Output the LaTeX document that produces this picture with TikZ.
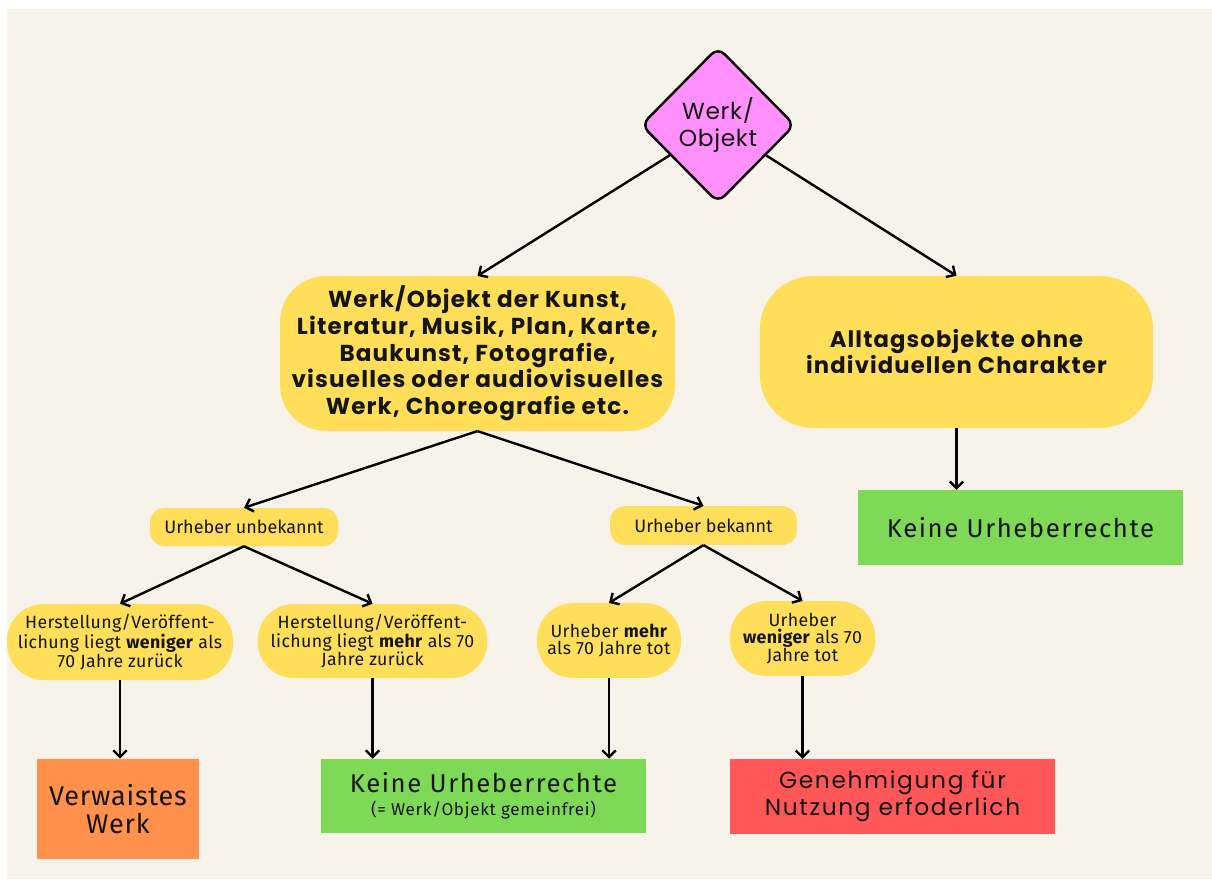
\documentclass[tikz,border=0pt]{standalone}
\usepackage{fontspec}
\setmainfont{Poppins}
\newfontfamily\fira{Fira Sans}
\usetikzlibrary{arrows.meta,shapes.geometric}
\definecolor{cream}{HTML}{F7F2EA}
\definecolor{ylw}{HTML}{FFDE59}
\definecolor{grn}{HTML}{7ED957}
\definecolor{org}{HTML}{FF914D}
\definecolor{rd}{HTML}{FF5757}
\definecolor{pnk}{HTML}{FF8FFA}
\definecolor{txt}{HTML}{151515}
\begin{document}
\begin{tikzpicture}[x=0.75pt,y=-0.75pt,
  arr/.style={draw=black,line width=1.8pt,-{Straight Barb[length=5pt,width=10pt,line width=1.8pt]}},
  base/.style={inner sep=0pt,align=center,text=txt},
  ybox/.style={base,fill=ylw},
  flat/.style={base,draw=none},
  smalltxt/.style={font=\fira\addfontfeature{LetterSpace=2}\fontsize{13.3}{13}\selectfont}
]
\fill[white] (0,0) rectangle (1212,881);
\fill[cream] (7,9) rectangle (1212,879);

\node[diamond,draw=black,line width=1.8pt,fill=pnk,inner sep=0pt,
  minimum width=115.5pt,minimum height=117pt,rounded corners=7pt,
  align=center,text=txt,font=\addfontfeature{LetterSpace=3}\fontsize{17.5}{20}\selectfont] (d) at (718,125) {Werk/\\Objekt};

\node[ybox,rounded corners=34pt,minimum width=296pt,minimum height=116pt,
  font=\bfseries\addfontfeature{LetterSpace=5}\fontsize{17.3}{20}\selectfont] (b1) at (477.5,353.5)
  {Werk/Objekt der Kunst,\\Literatur, Musik, Plan, Karte,\\Baukunst, Fotografie,\\visuelles oder audiovisuelles\\Werk, Choreografie etc.};

\node[ybox,rounded corners=40pt,minimum width=295pt,minimum height=114pt,
  font=\bfseries\addfontfeature{LetterSpace=5}\fontsize{17}{19.5}\selectfont] (b2) at (956.5,352)
  {Alltagsobjekte ohne\\individuellen Charakter};

\node[flat,fill=grn,minimum width=244pt,minimum height=56pt,
  font=\fira\addfontfeature{LetterSpace=6}\fontsize{19.3}{20}\selectfont] (k1) at (1020.5,527.5) {Keine Urheberrechte};

\node[ybox,rounded corners=11pt,minimum width=141pt,minimum height=28.5pt,
  font=\fira\fontsize{13.5}{15}\selectfont] (ub) at (244,527) {Urheber unbekannt};
\node[ybox,rounded corners=11pt,minimum width=140pt,minimum height=29pt,
  font=\fira\fontsize{13.5}{15}\selectfont] (bk) at (703.5,525.5) {Urheber bekannt};

\node[ybox,rounded corners=27.5pt,minimum width=169.5pt,minimum height=57pt,smalltxt] (h1) at (120,642)
  {Herstellung/Veröffent-\\lichung liegt \textbf{weniger} als\\70 Jahre zurück};
\node[ybox,rounded corners=27pt,minimum width=172pt,minimum height=55.5pt,smalltxt] (h2) at (372.5,641)
  {Herstellung/Veröffent-\\lichung liegt \textbf{mehr} als 70\\Jahre zurück};
\node[ybox,rounded corners=27pt,minimum width=108pt,minimum height=56pt,smalltxt] (u1) at (609,640.5)
  {Urheber \textbf{mehr}\\als 70 Jahre tot};
\node[ybox,rounded corners=27pt,minimum width=109pt,minimum height=56pt,smalltxt] (u2) at (802.5,638.5)
  {Urheber\\\textbf{weniger} als 70\\Jahre tot};

\node[flat,fill=org,minimum width=121.5pt,minimum height=75pt,
  font=\fira\addfontfeature{LetterSpace=3}\fontsize{20.3}{20.5}\selectfont] (vw) at (118,809) {Verwaistes\\Werk};
\node[flat,fill=grn,minimum width=244pt,minimum height=55.5pt,
  font=\fira\addfontfeature{LetterSpace=6}\fontsize{19.3}{18}\selectfont] (kg) at (483.5,796)
  {Keine Urheberrechte\\[-1pt]{\addfontfeature{LetterSpace=4}\fontsize{12.8}{13}\selectfont(= Werk/Objekt gemeinfrei)}};
\node[flat,fill=rd,minimum width=244pt,minimum height=56pt,
  font=\addfontfeature{LetterSpace=7}\fontsize{17.5}{20}\selectfont] (gen) at (892.5,796.5)
  {Genehmigung für\\Nutzung erfoderlich};

\draw[arr] (d) -- (b1.north);
\draw[arr] (d) -- (b2.north);
\draw[arr] (b2.south) -- (b2.south |- k1.north);
\draw[arr] (b1.south) -- (ub.north);
\draw[arr] (b1.south) -- (bk.north);
\draw[arr] (ub.south) -- (h1.north);
\draw[arr] (ub.south) -- (h2.north);
\draw[arr] (bk.south) -- (u1.north);
\draw[arr] (bk.south) -- (u2.north);
\draw[arr] (h1.south) -- (h1.south |- vw.north);
\draw[arr] (h2.south) -- (h2.south |- kg.north);
\draw[arr] (u1.south) -- (u1.south |- kg.north);
\draw[arr] (u2.south) -- (u2.south |- gen.north);
\end{tikzpicture}
\end{document}
